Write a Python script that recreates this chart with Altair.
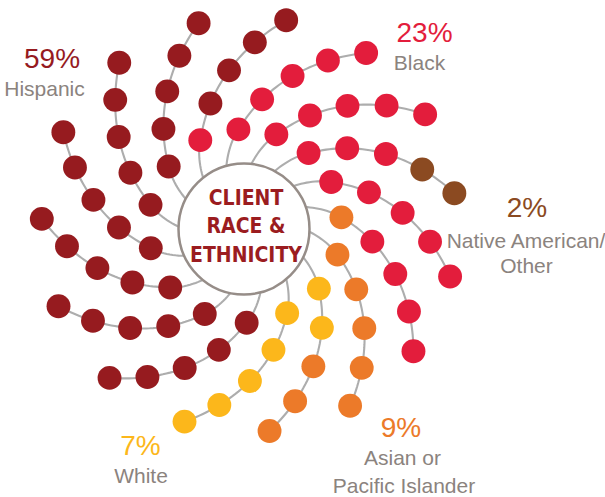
import math
import altair as alt
import pandas as pd

# ---------------- data ----------------
categories = ["Hispanic", "Black", "Native American/Other", "Asian or Pacific Islander", "White"]
codes = ["H", "B", "N", "A", "W"]
percents = [59, 23, 2, 9, 7]
colors = ["#961b1f", "#e31d3c", "#8b4a21", "#ec7a29", "#fcb71b"]
label_lines = [["Hispanic"], ["Black"], ["Native American/", "Other"],
               ["Asian or", "Pacific Islander"], ["White"]]
# category of each dot along each arm (inner -> outer), arms clockwise from upper left
arms = ["BHHHH", "BBBBB", "BBBBB", "BBBNN", "BBBBB", "ABBBB", "AAAAA", "WWAAA",
        "WWWWW", "HHHHH", "HHHHH", "HHHHH", "HHHHH", "HHHHH", "HHHHH"]
center_title = ["CLIENT", "RACE &", "ETHNICITY"]

# ---------------- layout (geometry of the swirl) ----------------
W, H = 605, 497
CX, CY = 245.0, 226.0        # swirl centre (inner ring)
SHIFT_X, SHIFT_Y = 4.23, -1.54   # drift of the ring centre towards the outer ring
R0, R4 = 96.8, 207.5         # radius of innermost / outermost dot ring
K, P = 0.507, 0.933          # twist (deg) = K * (r - R0) ** P
A0, STEP = 237.3, 360.0 / len(arms)
IN_A, IN_B = -4.45, -2.65    # angular distortion (inner ring)
OUT_A, OUT_B = -1.92, 0.79   # angular distortion (outer ring)
R_IN = 55.0                  # line starts inside the centre circle
CIRC_X, CIRC_Y, CIRC_D = 244.0, 229.0, 131.0


def twist(r):
    d = r - R0
    return math.copysign(K * abs(d) ** P, d)


def arc_to(r_end, dr=0.02):
    s, r = 0.0, R0
    while r < r_end:
        rm = r + dr / 2
        dphi = math.radians(K * P * (rm - R0) ** (P - 1))
        s += math.sqrt(1 + (rm * dphi) ** 2) * dr
        r += dr
    return s


def r_at_arc(s_target, dr=0.02):
    s, r = 0.0, R0
    while s < s_target:
        rm = r + dr / 2
        dphi = math.radians(K * P * (rm - R0) ** (P - 1))
        s += math.sqrt(1 + (rm * dphi) ** 2) * dr
        r += dr
    return r


def point(i, r):
    f = min(max((r - R0) / (R4 - R0), 0.0), 1.0)
    cx, cy = CX + SHIFT_X * f, CY + SHIFT_Y * f
    phi = A0 + STEP * i + twist(r)
    pr = math.radians(phi)
    delta = (1 - f) * (IN_A * math.sin(pr) + IN_B * math.cos(pr)) + \
        f * (OUT_A * math.sin(pr) + OUT_B * math.cos(pr))
    a = math.radians(phi + delta)
    return cx + r * math.cos(a), cy + r * math.sin(a)


n_dots = len(arms[0])
L = arc_to(R4)
r_dots = [R0] + [r_at_arc(j * L / (n_dots - 1)) for j in range(1, n_dots - 1)] + [R4]
code_to_cat = dict(zip(codes, categories))

dot_rows, line_rows = [], []
for i, arm in enumerate(arms):
    for j, code in enumerate(arm):
        x, y = point(i, r_dots[j])
        dot_rows.append({"arm": i, "x": x, "y": y, "cat": code_to_cat[code]})
    n = 60
    for k in range(n + 1):
        r = R_IN + (R4 - R_IN) * k / n
        x, y = point(i, r)
        line_rows.append({"arm": i, "k": k, "x": x, "y": y})

dots = pd.DataFrame(dot_rows)
lines = pd.DataFrame(line_rows)

# label placement (centre x, baseline y)
label_pos = {
    "Hispanic": [(52, 68), (44.5, 96)],
    "Black": [(424.5, 42), (419.5, 70)],
    "Native American/Other": [(527, 217), (526, 248), (526.5, 273)],
    "Asian or Pacific Islander": [(401, 437), (402.5, 465), (404, 493)],
    "White": [(140.5, 455), (141, 483)],
}
GREY_TXT = "#8b837e"
label_rows = []
for cat, pct, col, lns in zip(categories, percents, colors, label_lines):
    pos = label_pos[cat]
    label_rows.append({"x": pos[0][0], "y": pos[0][1], "text": f"{pct}%", "col": col, "fs": 28})
    for ln, p in zip(lns, pos[1:]):
        label_rows.append({"x": p[0], "y": p[1], "text": ln, "col": GREY_TXT, "fs": 21})
labels = pd.DataFrame(label_rows)

title_df = pd.DataFrame({"x": [246, 246, 246], "y": [205, 233, 262], "text": center_title})
circle_df = pd.DataFrame({"x": [CIRC_X], "y": [CIRC_Y]})

xs = alt.Scale(domain=[0, W], nice=False, zero=False)
ys = alt.Scale(domain=[0, H], nice=False, zero=False, reverse=True)
X = lambda: alt.X("x:Q", scale=xs, axis=None)
Y = lambda: alt.Y("y:Q", scale=ys, axis=None)

line_layer = alt.Chart(lines).mark_line(color="#adadad", strokeWidth=2.1).encode(
    x=X(), y=Y(), detail="arm:N", order="k:Q")

circle_layer = alt.Chart(circle_df).mark_circle(
    size=CIRC_D ** 2, fill="white", stroke="#968d88", strokeWidth=2.5, opacity=1
).encode(x=X(), y=Y())

dot_layer = alt.Chart(dots).mark_circle(size=570, opacity=1).encode(
    x=X(), y=Y(),
    color=alt.Color("cat:N", scale=alt.Scale(domain=categories, range=colors), legend=None))

title_layer = alt.Chart(title_df).mark_text(
    font="DejaVu Sans Condensed, Liberation Sans Narrow, sans-serif",
    fontWeight="bold", fontSize=21, color="#9b1c20", align="center", baseline="alphabetic"
).encode(x=X(), y=Y(), text="text:N")

label_layer = alt.Chart(labels).mark_text(
    font="Liberation Sans, Arial, sans-serif", align="center", baseline="alphabetic"
).encode(x=X(), y=Y(), text="text:N",
         color=alt.Color("col:N", scale=None),
         size=alt.Size("fs:Q", scale=None))

chart = alt.layer(line_layer, circle_layer, dot_layer, title_layer, label_layer).properties(
    width=W, height=H, padding=0, autosize=alt.AutoSizeParams(type="none"),
    background="white"
).configure_view(stroke=None)

chart.save("out.html", embed_options={"renderer": "svg", "actions": False})
